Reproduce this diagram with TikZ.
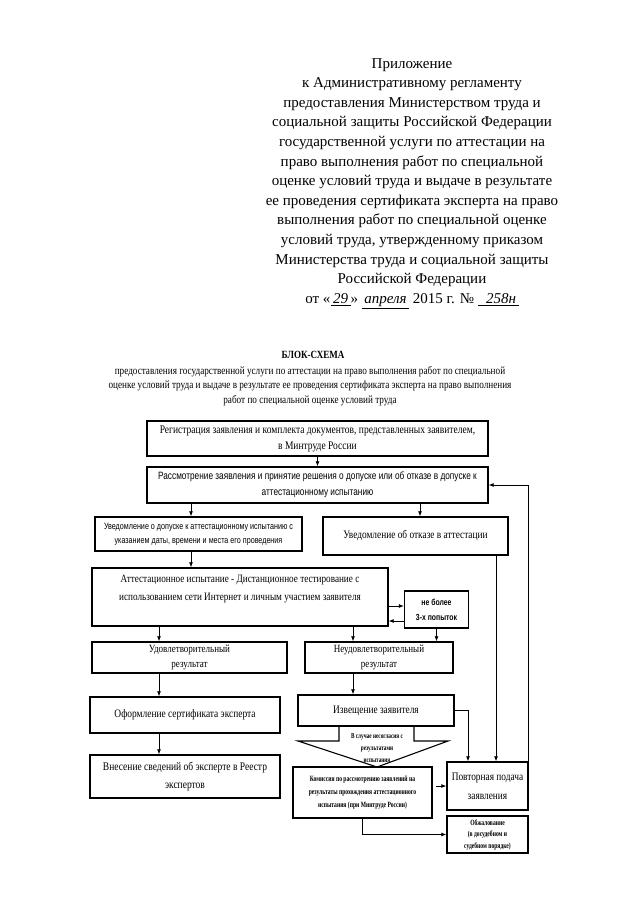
\documentclass[tikz,border=0pt]{standalone}
\usepackage{fontspec}
\setmainfont{Liberation Serif}
\newfontfamily\narrowserif[FakeStretch=0.82]{Liberation Serif}
\newfontfamily\narrowsans[FakeStretch=0.78]{Liberation Sans}
\newfontfamily\tinyserif[FakeStretch=0.7]{Liberation Serif}
\usetikzlibrary{arrows.meta}

\begin{document}
\begin{tikzpicture}[x=1pt,y=-1pt,
	box/.style={draw, line width=1.4pt, align=center, inner sep=1pt},
	flow/.style={line width=0.8pt, -{Latex[length=5pt,width=4pt]}},
	txt/.style={align=center, inner sep=0pt}]
	\useasboundingbox (0,0) rectangle (640,905);
	% head of the annex
	\node[txt, anchor=north, font=\fontsize{15}{19.6}\selectfont] (head) at (412,58) {Приложение\\
		к Административному регламенту\\
		предоставления Министерством труда  и\\
		социальной защиты Российской Федерации\\
		государственной услуги по аттестации  на\\
		право выполнения работ по специальной\\
		оценке условий труда и выдаче в результате\\
		ее проведения сертификата эксперта на право\\
		выполнения работ по специальной оценке\\
		условий труда, утвержденному приказом\\
		Министерства труда и социальной защиты\\
		Российской Федерации\\
		от «\underline{\itshape\,29\,}» \underline{\itshape\,апреля\,} 2015 г. № \underline{\itshape\;\;258н\,}};
	\node[txt, font=\narrowserif\bfseries\fontsize{11}{13}\selectfont] (title) at (313,355) {БЛОК-СХЕМА};
	\node[txt, anchor=north, font=\narrowserif\fontsize{11.2}{14.5}\selectfont] (sub) at (310,366) {предоставления государственной услуги по аттестации на право выполнения работ по специальной\\
		оценке условий труда и выдаче в результате ее проведения сертификата эксперта на право выполнения\\
		работ по специальной оценке условий труда};
	% boxes
	\node[box, minimum width=341, minimum height=35, font=\narrowserif\fontsize{11.6}{16}\selectfont] (b1) at (317.5,438.5) {Регистрация заявления и комплекта документов, представленных заявителем,\\ в Минтруде России};
	\node[box, minimum width=341, minimum height=36, font=\narrowsans\fontsize{10.6}{16}\selectfont] (b2) at (317.5,485) {Рассмотрение заявления и принятие решения о допуске или об отказе в допуске к\\ аттестационному испытанию};
	\node[box, minimum width=207, minimum height=34, font=\narrowsans\fontsize{9.2}{14}\selectfont] (b3) at (198.5,534) {Уведомление о допуске к аттестационному испытанию с\\ указанием даты, времени и места его проведения};
	\node[box, minimum width=185, minimum height=38, font=\narrowserif\fontsize{11.4}{14}\selectfont] (b4) at (415.5,536) {Уведомление об отказе в аттестации};
	\node[box, minimum width=296, minimum height=58] (b5) at (240,597) {};
	\node[txt, font=\narrowserif\fontsize{11.2}{18}\selectfont] (b5t) at (240,589) {Аттестационное испытание - Дистанционное тестирование с\\ использованием сети Интернет и личным участием заявителя};
	\node[box, minimum width=64, minimum height=37, font=\narrowsans\bfseries\fontsize{8.8}{15}\selectfont] (tries) at (436.5,609.5) {не более\\ 3-х попыток};
	\node[box, minimum width=195, minimum height=31, font=\narrowserif\fontsize{11}{15}\selectfont] (b6) at (189.5,657.5) {Удовлетворительный\\ результат};
	\node[box, minimum width=148, minimum height=31, font=\narrowserif\fontsize{11}{15}\selectfont] (b7) at (379,657.5) {Неудовлетворительный\\ результат};
	\node[box, minimum width=190, minimum height=36, font=\narrowserif\fontsize{11.5}{14}\selectfont] (b8) at (185,715) {Оформление сертификата эксперта};
	\node[box, minimum width=156, minimum height=31, font=\narrowserif\fontsize{11.4}{14}\selectfont] (b9) at (376,710.5) {Извещение заявителя};
	\node[box, minimum width=190, minimum height=43, font=\narrowserif\fontsize{11.6}{18}\selectfont] (b10) at (185,776.5) {Внесение сведений об эксперте в Реестр\\ экспертов};
	\node[box, minimum width=139, minimum height=51, font=\tinyserif\bfseries\fontsize{8}{13}\selectfont] (b11) at (362.5,792.5) {Комиссия по рассмотрению заявлений на\\ результаты прохождения аттестационного\\ испытания (при Минтруде России)};
	\node[box, minimum width=81, minimum height=48, font=\narrowserif\fontsize{11.4}{19}\selectfont] (b12) at (487.5,786) {Повторная подача\\ заявления};
	\node[box, minimum width=81, minimum height=37, font=\tinyserif\bfseries\fontsize{8}{11.5}\selectfont] (b13) at (487.5,834.5) {Обжалование\\ (в досудебном и\\ судебном порядке)};
	% the arrow shaped note under b9
	\draw[line width=1.1pt] (339,726) -- (339,741) -- (298,741) -- (377,767) -- (448,741) -- (414,741) -- (414,726);
	\node[txt, font=\tinyserif\bfseries\fontsize{7.5}{12}\selectfont] (note) at (377,748) {В случае несогласия с\\ результатами\\ испытания};
	% columns and rows of the arrows
	\coordinate (k1) at (191,0);
	\coordinate (k2) at (420,0);
	\coordinate (k3) at (159,0);
	\coordinate (k4) at (353,0);
	\coordinate (k5) at (496,0);
	\coordinate (k6) at (468,0);
	\coordinate (r1) at (0,606);
	\coordinate (r2) at (0,621);
	% arrows
	\draw[flow] (b1.south) -- (b2.north);
	\draw[flow] (b2.south -| k1) -- (b3.north -| k1);
	\draw[flow] (b2.south -| k2) -- (b4.north -| k2);
	\draw[flow] (b3.south -| k1) -- (b5.north -| k1);
	\draw[flow] (b5.east |- r1) -- (tries.west |- r1);
	\draw[flow] (tries.west |- r2) -- (b5.east |- r2);
	\draw[flow] (b5.south -| k3) -- (b6.north -| k3);
	\draw[flow] (b5.south -| k4) -- (b7.north -| k4);
	\draw[flow] (tries.south) -- (tries.south |- b7.north);
	\draw[flow] (b6.south -| k3) -- (b8.north -| k3);
	\draw[flow] (b8.south -| k3) -- (b10.north -| k3);
	\draw[flow] (b7.south -| k4) -- (b9.north -| k4);
	\draw[flow] (b4.south -| k5) -- (b12.north -| k5);
	\draw[flow] (b9.east) -| (b12.north -| k6);
	\draw[flow] (b12.north east) |- (b2.east);
	\draw[flow] ([xshift=3pt]b11.east |- b12.west) -- (b12.west);
	\draw[flow] (b11.south) |- (b13.west);
\end{tikzpicture}
\end{document}
